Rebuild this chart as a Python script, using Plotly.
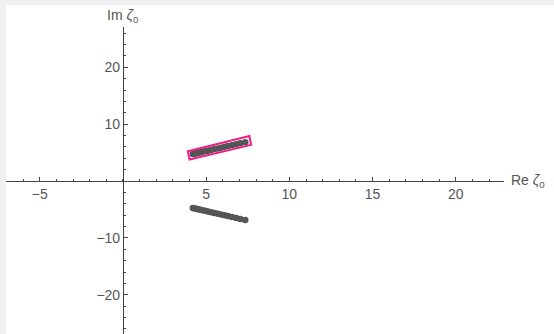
import plotly.graph_objects as go

# data: roots zeta_0 (upper branch), lower branch is the complex conjugate
re_vals = [4.2, 4.3, 4.4, 4.5, 4.6, 4.7, 4.85, 5.0, 5.15, 5.3, 5.5, 5.7, 5.9, 6.1, 6.3, 6.55, 6.8, 7.05, 7.35]
im_vals = [4.75, 4.82, 4.88, 4.95, 5.02, 5.08, 5.18, 5.28, 5.38, 5.48, 5.62, 5.75, 5.88, 6.02, 6.15, 6.32, 6.48, 6.65, 6.85]
im_conj = [-v for v in im_vals]

x_ticks = [-5, 5, 10, 15, 20]
x_text = ["−5", "5", "10", "15", "20"]
y_ticks = [-20, -10, 10, 20]
y_text = ["−20", "−10", "10", "20"]

xr = [-7.03, 22.9]
yr = [-26.9, 27.1]

W, H = 548, 329
ml, mr, mt, mb = 0, 50, 22, 0

fig = go.Figure()
pt_color = "#555555"
fig.add_trace(go.Scatter(x=re_vals, y=im_vals, mode="markers",
                         marker=dict(size=6.5, color=pt_color), showlegend=False))
fig.add_trace(go.Scatter(x=re_vals, y=im_conj, mode="markers",
                         marker=dict(size=6.5, color=pt_color), showlegend=False))

# highlight outline around the upper branch
x0, x1 = re_vals[0] - 0.3, re_vals[-1] + 0.25
slope = (im_vals[-1] - im_vals[0]) / (re_vals[-1] - re_vals[0])
def yl(x):
    return im_vals[0] + slope * (x - re_vals[0])
up, dn = 0.7, 0.65
path = (f"M {x0},{yl(x0)+up} L {x1},{yl(x1)+up+0.2} "
        f"L {x1+0.1},{yl(x1)-dn} L {x0+0.1},{yl(x0)-dn-0.1} Z")
fig.add_shape(type="path", path=path, xref="x", yref="y",
              line=dict(color="#ee1c8c", width=2))

axis_col = "#444444"
font_col = "#555555"
xpos = (0 - xr[0]) / (xr[1] - xr[0])
ypos = (0 - yr[0]) / (yr[1] - yr[0])

fig.update_layout(
    width=W, height=H,
    margin=dict(l=ml, r=mr, t=mt, b=mb, autoexpand=False),
    paper_bgcolor="white", plot_bgcolor="white",
    font=dict(family="Liberation Sans, Arial, sans-serif", size=14, color=font_col),
    xaxis=dict(range=xr, showgrid=False, zeroline=False, showline=True, automargin=False,
               linecolor=axis_col, linewidth=1, anchor="free", position=ypos,
               tickmode="array", tickvals=x_ticks, ticktext=x_text,
               ticks="inside", ticklen=4, tickcolor=axis_col,
               minor=dict(dtick=1, tick0=0, ticks="inside", ticklen=2, tickcolor=axis_col),
               tickfont=dict(size=14, color=font_col)),
    yaxis=dict(range=yr, showgrid=False, zeroline=False, showline=True, automargin=False,
               linecolor=axis_col, linewidth=1, anchor="free", position=xpos,
               tickmode="array", tickvals=y_ticks, ticktext=y_text,
               ticks="inside", ticklen=4, tickcolor=axis_col,
               minor=dict(dtick=2, tick0=0, ticks="inside", ticklen=2, tickcolor=axis_col),
               tickfont=dict(size=14, color=font_col)),
    annotations=[
        dict(text="Re <i>ζ</i><sub>0</sub>", xref="paper", yref="y", x=1.01, y=0,
             xanchor="left", yanchor="middle", showarrow=False,
             font=dict(size=14, color=font_col)),
        dict(text="Im <i>ζ</i><sub>0</sub>", xref="x", yref="paper", x=0, y=1.0,
             xanchor="center", yanchor="bottom", showarrow=False,
             font=dict(size=14, color=font_col)),
    ],
)

fig.write_html(
    "out.html",
    config={"displayModeBar": False},
    post_script="document.body.style.margin='0';document.body.style.padding='5px 0 0 6px';"
                "document.body.style.background='#f0f0f0';document.body.style.overflow='hidden';",
)
